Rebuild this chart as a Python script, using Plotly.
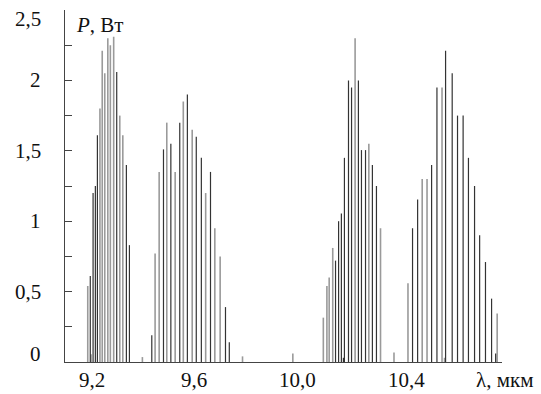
import plotly.graph_objects as go

# Laser line spectrum: wavelength (um) and output power (W)
dark_lambda = [9.192, 9.203, 9.212, 9.220, 9.296, 9.334, 9.346,
               9.434, 9.480, 9.509, 9.544, 9.574, 9.609, 9.629, 9.665, 9.724, 9.739,
               10.157, 10.169, 10.180, 10.188, 10.192, 10.208, 10.220, 10.247, 10.259,
               10.275, 10.302, 10.318,
               10.460, 10.480, 10.535, 10.556, 10.590, 10.616, 10.637, 10.659, 10.680,
               10.704, 10.724, 10.747, 10.771, 10.787]
dark_power = [0.61, 1.20, 1.25, 1.61, 2.06, 1.40, 0.83,
              0.19, 1.51, 1.55, 1.70, 1.90, 1.60, 1.45, 1.35, 0.39, 0.14,
              0.72, 1.00, 1.055, 0.03, 1.45, 2.00, 1.95, 2.00, 1.505,
              1.505, 1.40, 1.25,
              0.95, 1.155, 1.40, 1.95, 2.21, 2.05, 1.75, 1.75, 1.45,
              1.25, 0.90, 0.71, 0.45, 0.06]

light_lambda = [9.182, 9.195, 9.230, 9.239, 9.249, 9.261, 9.271, 9.284, 9.308, 9.320,
                9.397, 9.447, 9.463, 9.493, 9.526, 9.558, 9.593, 9.646, 9.682, 9.703, 9.791,
                9.989,
                10.109, 10.123, 10.132, 10.146, 10.234, 10.288, 10.334, 10.387,
                10.442, 10.498, 10.517, 10.576, 10.586, 10.793]
light_power = [0.54, 0.055, 1.80, 2.21, 2.05, 2.30, 2.25, 2.31, 1.75, 1.61,
               0.035, 0.77, 1.35, 1.70, 1.35, 1.85, 1.65, 1.20, 0.95, 0.75, 0.04,
               0.06,
               0.315, 0.54, 0.60, 0.81, 2.30, 1.55, 0.95, 0.067,
               0.56, 1.30, 1.30, 1.95, 0.03, 0.345]

y_tick_values = [0, 0.5, 1, 1.5, 2, 2.5]
y_tick_labels = ["0", "0,5", "1", "1,5", "2", "2,5"]
y_minor_values = [0.25, 0.5, 0.75, 1, 1.25, 1.5, 1.75, 2, 2.25, 2.5]
x_tick_values = [9.2, 9.6, 10.0, 10.4]
x_tick_labels = ["9,2", "9,6", "10,0", "10,4"]

FONT = "Times New Roman"
TEXT = dict(family=FONT, size=21, color="#111")


def stems(xs, ys):
    sx, sy = [], []
    for x, y in zip(xs, ys):
        sx += [x, x, None]
        sy += [0, y, None]
    return sx, sy


fig = go.Figure()
lx, ly = stems(light_lambda, light_power)
fig.add_trace(go.Scatter(x=lx, y=ly, mode="lines",
                         line=dict(color="#9a9a9a", width=1.6),
                         hoverinfo="skip", showlegend=False))
dx, dy = stems(dark_lambda, dark_power)
fig.add_trace(go.Scatter(x=dx, y=dy, mode="lines",
                         line=dict(color="#333333", width=1.2),
                         hoverinfo="skip", showlegend=False))

annotations = []
for v, t in zip(y_tick_values, y_tick_labels):
    shift = 0
    if v == 0:
        shift = 8
    elif v == 2.5:
        shift = -9
    annotations.append(dict(x=-0.05, xref="paper", y=v, yref="y", text=t,
                            showarrow=False, xanchor="right", yanchor="middle",
                            yshift=shift, font=TEXT))
for v, t in zip(x_tick_values, x_tick_labels):
    xs = 0
    if v == 10.0:
        xs = 2
    elif v == 10.4:
        xs = 9
    annotations.append(dict(x=v, xref="x", y=-0.05, yref="paper", text=t,
                            showarrow=False, xanchor="center", yanchor="middle",
                            xshift=xs, font=TEXT))
annotations.append(dict(x=0.02, xref="paper", y=0.957, yref="paper",
                        text="<i>P</i>, Вт", showarrow=False,
                        xanchor="left", yanchor="middle", font=TEXT))
annotations.append(dict(x=1.076, xref="paper", y=-0.05, yref="paper",
                        text="λ, мкм", showarrow=False,
                        xanchor="right", yanchor="middle", font=TEXT))

fig.update_layout(
    width=541, height=394,
    margin=dict(l=65, r=39, t=10, b=32),
    paper_bgcolor="white", plot_bgcolor="white",
    font=dict(family=FONT),
    annotations=annotations,
    xaxis=dict(range=[9.0925, 10.812], showline=True, linecolor="#444", linewidth=1,
               showgrid=False, zeroline=False, ticks="", automargin=False,
               tickvals=x_tick_values, showticklabels=False),
    yaxis=dict(range=[0, 2.5], showline=True, linecolor="#444", linewidth=1,
               showgrid=False, zeroline=False, ticks="inside", ticklen=7,
               tickcolor="#444", tickwidth=1, automargin=False,
               tickvals=y_minor_values, showticklabels=False),
)

fig.write_html("out.html", config={"displayModeBar": False},
               post_script="document.body.style.margin='0px';document.body.style.padding='0px';")
